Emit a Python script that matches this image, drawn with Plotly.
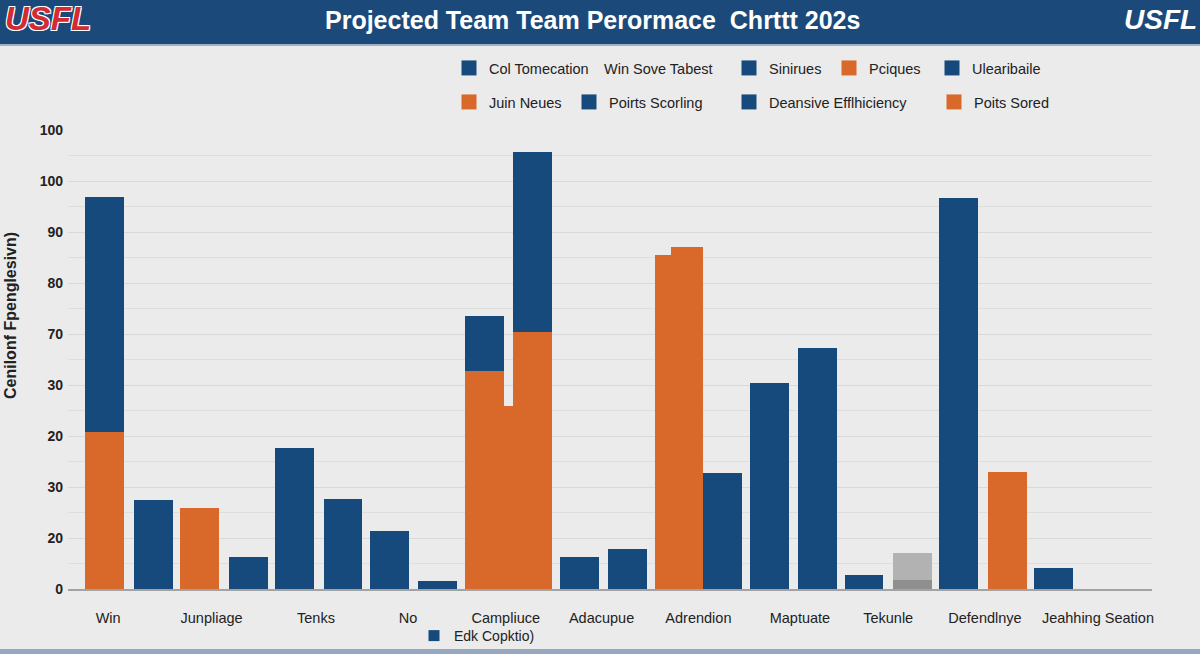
import plotly.graph_objects as go

# ---------------- data ----------------
categories = ["Win", "Junpliage", "Tenks", "No", "Campliuce", "Adacupue",
              "Adrendion", "Maptuate", "Tekunle", "Defendlnye", "Jeahhing Seation"]

# left bar of each group
left_orange = [30.8, 15.9, None, None, 42.7, None, 65.5, None, None, None, None]
left_blue = [46.1, None, 27.6, 11.4, 10.8, 6.3, None, 40.4, 2.7, 76.7, 4.1]   # stacked on left_orange
# right bar of each group
right_orange = [None, None, None, None, 50.4, None, None, None, None, 22.9, None]
right_blue = [17.5, 6.3, 17.6, 1.6, 35.3, 7.8, 22.7, 47.3, None, None, None]  # stacked on right_orange
right_gray_dark = [None, None, None, None, None, None, None, None, 1.8, None, None]
right_gray_light = [None, None, None, None, None, None, None, None, 5.3, None, None]
# odd narrow pieces
gap_orange = [None, None, None, None, 35.9, None, None, None, None, None, None]
step_orange = [None, None, None, None, None, None, 67.1, None, None, None, None]

y_tick_values = [0, 10, 20, 30, 40, 50, 60, 70, 80, 90]
y_tick_labels = ["0", "20", "30", "20", "30", "70", "80", "90", "100", "100"]

legend_names = ["Col Tomecation", "Win Sove Tabest", "Sinirues", "Pciques", "Ulearibaile",
                "Juin Neues", "Poirts Scorling", "Deansive Efflhiciency", "Poits Sored",
                "Edk Copktio)"]
legend_kinds = ["blue", "none", "blue", "orange", "blue",
                "orange", "blue", "blue", "orange", "blue"]

title_text = "Projected Team Team Perormace  Chrttt 202s"
y_title_text = "Cenilonf Fpenglesivn)"

# ---------------- style ----------------
BLUE = "#174a7c"
ORANGE = "#d8692a"
GRAY_L = "#b2b2b2"
GRAY_D = "#8f8f8f"
BG = "#ebebeb"
HEADER = "#1b4a7a"
TXT = "#222222"
FONT = "Liberation Sans, Arial, sans-serif"

W, H = 1200, 654
ML, MR, MT, MB = 68, 48, 130, 65
PW, PH = W - ML - MR, H - MT - MB

# small label nudges so category names sit where the reference prints them
tick_nudge = [-0.22, -0.13, -0.03, -0.06, -0.03, -0.02, 0.0, 0.07, 0.0, 0.02, 0.21]


def px(xp):
    return (xp - ML) / PW


def py(yp):
    return (H - MB - yp) / PH


def zero(v):
    return [0 if a is None else a for a in v]


idx = list(range(len(categories)))
fig = go.Figure()

L_OFF, R_OFF, BW = -0.46, 0.05, 0.41


def bar(vals, color, offset, width, base=None, name=""):
    fig.add_trace(go.Bar(x=idx, y=vals, base=base, offset=offset, width=width,
                         marker=dict(color=color, line=dict(width=0)),
                         name=name, showlegend=False, hoverinfo="skip"))


bar(gap_orange, ORANGE, -0.06, 0.12, name="gap")
bar(left_orange, ORANGE, L_OFF, BW, name="left orange")
bar(step_orange, ORANGE, -0.29, 0.34, name="step")
bar(left_blue, BLUE, L_OFF, BW, base=zero(left_orange), name="left blue")
bar(right_orange, ORANGE, R_OFF, BW, name="right orange")
bar(right_blue, BLUE, R_OFF, BW, base=zero(right_orange), name="right blue")
bar(right_gray_dark, GRAY_D, R_OFF, BW, name="gray dark")
bar(right_gray_light, GRAY_L, R_OFF, BW, base=zero(right_gray_dark), name="gray light")

# legend entries: each in its own legend box, placed like the reference
legend_pos = [(449, 68), (564, 68), (729, 68), (829, 68), (932, 68),
              (449, 102), (569, 102), (729, 102), (934, 102),
              (414, 636)]
color_of = {"blue": BLUE, "orange": ORANGE, "none": "rgba(0,0,0,0)"}
layout_legends = {}
for k, (name, kind, (lx, ly)) in enumerate(zip(legend_names, legend_kinds, legend_pos)):
    key = "legend" if k == 0 else f"legend{k + 1}"
    size = 11 if k == 9 else 15
    fig.add_trace(go.Scatter(x=[None], y=[None], mode="markers", name=name,
                             marker=dict(symbol="square", size=size, color=color_of[kind]),
                             legend=key, showlegend=True))
    layout_legends[key] = dict(x=px(lx), y=py(ly), xanchor="left", yanchor="middle",
                               orientation="h", bgcolor="rgba(0,0,0,0)", borderwidth=0,
                               font=dict(family=FONT, size=14.5 if k < 9 else 14, color=TXT),
                               itemclick=False, itemdoubleclick=False, itemwidth=30)

shapes = [
    dict(type="rect", xref="paper", yref="paper", x0=px(0), x1=px(W), y0=py(44), y1=py(0),
         fillcolor=HEADER, line=dict(width=0), layer="below"),
    dict(type="rect", xref="paper", yref="paper", x0=px(0), x1=px(W), y0=py(46), y1=py(44),
         fillcolor="#9fb1c4", line=dict(width=0), layer="below"),
    dict(type="rect", xref="paper", yref="paper", x0=px(0), x1=px(W), y0=py(H), y1=py(649),
         fillcolor="#95a8bf", line=dict(width=0), layer="below"),
]

outline = ("-1px -1px 0 #ffffff, 1px -1px 0 #ffffff, -1px 1px 0 #ffffff, 1px 1px 0 #ffffff")
annotations = [
    dict(text=title_text, xref="paper", yref="paper", x=px(592), y=py(20),
         xanchor="center", yanchor="middle", showarrow=False,
         font=dict(family=FONT, size=25, color="white", weight="bold")),
    dict(text="USFL", xref="paper", yref="paper", x=px(3), y=py(19),
         xanchor="left", yanchor="middle", showarrow=False,
         font=dict(family=FONT, size=33, color="#d42a33", weight="bold", style="italic",
                   shadow=outline)),
    dict(text="USFL", xref="paper", yref="paper", x=px(1122), y=py(20),
         xanchor="left", yanchor="middle", showarrow=False,
         font=dict(family=FONT, size=28, color="white", weight="bold", style="italic")),
    dict(text=y_title_text, xref="paper", yref="paper", x=px(10), y=py(316),
         xanchor="center", yanchor="middle", showarrow=False, textangle=-90,
         font=dict(family=FONT, size=16, color=TXT, weight="bold")),
]

fig.update_layout(
    width=W, height=H, autosize=False,
    margin=dict(l=ML, r=MR, t=MT, b=MB, pad=0, autoexpand=False),
    paper_bgcolor=BG, plot_bgcolor=BG,
    barmode="overlay", bargap=0,
    font=dict(family=FONT, color=TXT),
    shapes=shapes, annotations=annotations,
    hovermode=False,
    xaxis=dict(range=[-0.643, 10.78], tickmode="array",
               tickvals=[i + n for i, n in zip(idx, tick_nudge)], ticktext=categories,
               showgrid=False, zeroline=False, showline=True, linecolor="#a3a3a3", linewidth=1.5,
               ticks="", ticklabelstandoff=15, automargin=False,
               tickfont=dict(family=FONT, size=14.5, color=TXT), fixedrange=True),
    yaxis=dict(range=[0, 90], tickmode="array", tickvals=y_tick_values, ticktext=y_tick_labels,
               showgrid=True, gridcolor="#d9d9d9", gridwidth=1, zeroline=False,
               minor=dict(dtick=5, showgrid=True, gridcolor="#dedede", gridwidth=1),
               ticks="", ticklabelstandoff=4, automargin=False,
               tickfont=dict(family=FONT, size=14, color=TXT, weight="bold"), fixedrange=True),
    **layout_legends,
)

fig.write_html("out.html", config={"displayModeBar": False},
               post_script="document.body.style.margin='0';document.body.style.overflow='hidden';")
